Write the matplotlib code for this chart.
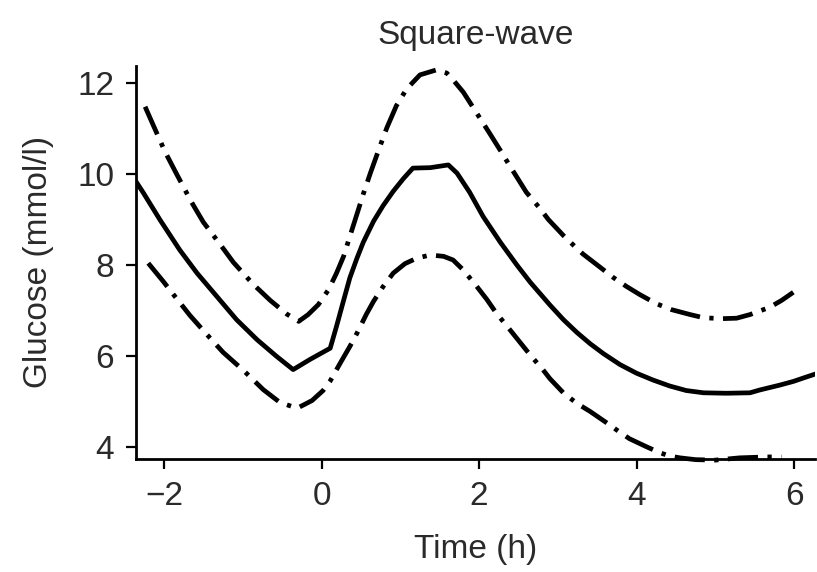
import matplotlib
matplotlib.use("Agg")
import matplotlib.pyplot as plt

# glucose profile, square-wave bolus
mean_t = [-2.41, -2.26, -2.05, -1.80, -1.58, -1.33, -1.08, -0.82, -0.57, -0.36, -0.15, 0.11,
          0.19, 0.28, 0.36, 0.45, 0.53, 0.66, 0.78, 0.91, 1.04, 1.16, 1.38, 1.61, 1.72, 1.88,
          2.05, 2.27, 2.48, 2.65, 2.77, 2.90, 3.07, 3.24, 3.41, 3.58, 3.79, 4.00, 4.21, 4.42,
          4.63, 4.85, 5.14, 5.44, 5.56, 5.82, 5.99, 6.16, 6.30]
mean_g = [9.98, 9.58, 8.99, 8.33, 7.82, 7.31, 6.80, 6.36, 5.99, 5.70, 5.92, 6.17,
          6.65, 7.22, 7.72, 8.15, 8.50, 8.96, 9.30, 9.62, 9.90, 10.13, 10.14, 10.20, 10.02, 9.60,
          9.07, 8.50, 8.00, 7.62, 7.38, 7.12, 6.80, 6.52, 6.27, 6.05, 5.81, 5.62, 5.47, 5.34,
          5.24, 5.19, 5.18, 5.19, 5.25, 5.36, 5.44, 5.54, 5.62]

upper_t = [-2.24, -2.11, -1.99, -1.84, -1.65, -1.50, -1.29, -1.12, -0.87, -0.65, -0.44, -0.29,
           -0.17, -0.04, 0.09, 0.19, 0.28, 0.36, 0.45, 0.53, 0.62, 0.74, 0.83, 0.95, 1.08, 1.25,
           1.46, 1.59, 1.67, 1.80, 1.97, 2.14, 2.27, 2.39, 2.60, 2.77, 2.88, 3.07, 3.22, 3.32,
           3.53, 3.70, 3.87, 4.04, 4.25, 4.44, 4.68, 4.85, 5.08, 5.27, 5.44, 5.69, 5.84, 5.99]
upper_g = [11.48, 10.97, 10.50, 10.00, 9.38, 8.94, 8.46, 8.06, 7.58, 7.22, 6.92, 6.76,
           6.91, 7.13, 7.46, 7.82, 8.19, 8.63, 9.12, 9.56, 10.02, 10.60, 11.02, 11.50, 11.87, 12.18,
           12.29, 12.22, 12.07, 11.80, 11.34, 10.88, 10.52, 10.18, 9.60, 9.25, 9.00, 8.65, 8.40, 8.24,
           7.96, 7.73, 7.53, 7.35, 7.15, 7.02, 6.91, 6.84, 6.82, 6.83, 6.91, 7.07, 7.22, 7.40]

lower_t = [-2.20, -2.01, -1.88, -1.67, -1.46, -1.25, -0.99, -0.74, -0.53, -0.31, -0.12, 0.02,
           0.11, 0.23, 0.36, 0.45, 0.57, 0.66, 0.78, 0.91, 1.06, 1.21, 1.38, 1.55, 1.67, 1.80,
           1.97, 2.10, 2.22, 2.39, 2.52, 2.65, 2.81, 2.90, 3.07, 3.24, 3.41, 3.62, 3.79, 3.91,
           4.13, 4.30, 4.42, 4.55, 4.75, 5.00, 5.31, 5.65, 5.84]
lower_g = [8.04, 7.64, 7.35, 6.89, 6.48, 6.08, 5.68, 5.26, 4.98, 4.85, 5.02, 5.24,
           5.45, 5.82, 6.21, 6.50, 6.92, 7.20, 7.52, 7.82, 8.03, 8.15, 8.22, 8.19, 8.11, 7.89,
           7.53, 7.24, 6.94, 6.58, 6.30, 6.02, 5.70, 5.50, 5.19, 4.96, 4.78, 4.53, 4.32, 4.18,
           4.00, 3.87, 3.80, 3.76, 3.72, 3.71, 3.76, 3.78, 3.78]

plt.rcParams['font.family'] = ['Liberation Sans', 'DejaVu Sans']
txt = '#2a2a2a'

fig = plt.figure(figsize=(8.17, 5.72), dpi=100)
ax = fig.add_axes([0.167, 0.198, 0.831, 0.687])

dash = (0, (6.4, 2.0, 0.9, 2.0))
lw = 3.4
ax.plot(mean_t, mean_g, color='black', lw=lw, solid_joinstyle='round')
ax.plot(upper_t, upper_g, color='black', lw=lw, linestyle=dash, dash_capstyle='butt')
ax.plot(lower_t, lower_g, color='black', lw=lw, linestyle=dash, dash_capstyle='butt',
        clip_on=False)

ax.set_xlim(-2.35, 6.27)
ax.set_ylim(3.74, 12.38)
ax.set_xticks([-2, 0, 2, 4, 6])
ax.set_xticklabels(['\u22122', '0', '2', '4', '6'])
ax.set_yticks([4, 6, 8, 10, 12])

for s in ['top', 'right']:
    ax.spines[s].set_visible(False)
for s in ['left', 'bottom']:
    ax.spines[s].set_linewidth(2.0)

ax.tick_params(axis='both', direction='out', length=7, width=1.6, labelsize=24,
               labelcolor=txt, pad=9)

ax.set_title('Square-wave', fontsize=24, color=txt, pad=16)
ax.set_xlabel('Time (h)', fontsize=24, color=txt, labelpad=16)
ax.set_ylabel('Glucose (mmol/l)', fontsize=24, color=txt, labelpad=17)

fig.savefig('out.png', dpi=100)
